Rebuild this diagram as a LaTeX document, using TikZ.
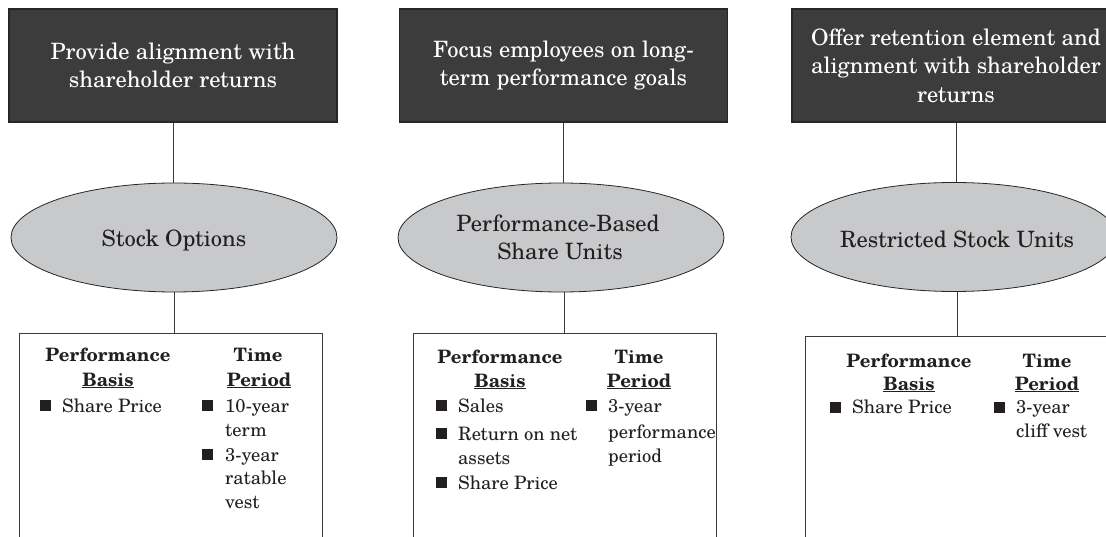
\documentclass[tikz,border=0pt]{standalone}
\usepackage{fontspec}
\setmainfont{TeX Gyre Schola}
\usetikzlibrary{shapes.geometric}
\definecolor{darkbox}{HTML}{3C3C3C}
\definecolor{boxedge}{HTML}{262626}
\definecolor{ellgray}{HTML}{C8C9CB}
\definecolor{ink}{HTML}{231F20}
\definecolor{wirecol}{HTML}{3A3A3A}
\tikzset{
  goal/.style={draw=boxedge, line width=1.2pt, fill=darkbox, text=white,
    minimum width=328pt, minimum height=113pt, inner sep=0pt, align=center,
    font=\fontsize{22.5}{28.5}\selectfont},
  ell/.style={ellipse, draw=boxedge, fill=ellgray, line width=0.8pt,
    minimum width=326pt, minimum height=109pt, inner sep=0pt},
  etext/.style={font=\fontsize{22.5}{28}\selectfont, text=ink, anchor=base, inner sep=0pt},
  panel/.style={draw=wirecol, line width=0.8pt, minimum width=303pt,
    minimum height=260pt, anchor=north, inner sep=0pt},
  head/.style={font=\fontsize{18.5}{23}\selectfont\bfseries, anchor=base, inner sep=0pt, text=ink},
  item/.style={font=\fontsize{18.5}{24}\selectfont, anchor=base west, inner sep=0pt, text=ink},
  bul/.style={fill=ink, minimum size=11pt, inner sep=0pt},
  wire/.style={draw=wirecol, line width=0.8pt}
}
\begin{document}
\begin{tikzpicture}[x=1pt,y=-1pt]
\useasboundingbox (0,0) rectangle (1106,537);
\clip (0,0) rectangle (1106,537);

% goal boxes
\node[goal] (g1) at (173,65.5) {Provide alignment with\\shareholder returns};
\node[goal] (g2) at (563.5,65.5) {Focus employees on long-\\term performance goals};
\node[goal] (g3) at (956,65.5) {Offer retention element and\\alignment with shareholder\\returns};

% ellipses
\node[ell] (e1) at (174,237.5) {};
\node[ell] (e2) at (561,237.5) {};
\node[ell] (e3) at (954,237) {};
\node[etext] (e1t) at (174,247) {Stock Options};
\node[etext] (e2t) at (558,232) {Performance-Based};
\node[etext] (e2u) at (560,260) {Share Units};
\node[etext] (e3t) at (957,248) {Restricted Stock Units};

% panels
\node[panel] (b1) at (170.5,333) {};
\node[panel] (b2) at (564.5,333) {};
\node[panel] (b3) at (957,336) {};

% connectors
\draw[wire] (g1.south) -- (g1.south |- e1.north);
\draw[wire] (g2.south) -- (g2.south |- e2.north);
\draw[wire] (g3.south) -- (g3.south |- e3.north);
\draw[wire] (e1.south) -- (e1.south |- b1.north);
\draw[wire] (b2.north |- e2.south) -- (b2.north);
\draw[wire] (b3.north |- e3.south) -- (b3.north);

% panel 1
\node[head] (h1a) at (108,362) {Performance};
\node[head] (h1b) at (108,386) {\underline{Basis}};
\node[head] (h1c) at (258,362) {Time};
\node[head] (h1d) at (259,386) {\underline{Period}};
\node[bul] (s1a) at (45,405.5) {};
\node[item] (i1a) at (62,412) {Share Price};
\node[bul] (s1b) at (207.5,405.5) {};
\node[item] (i1b) at (225,412) {10-year};
\node[item] (i1c) at (225,436) {term};
\node[bul] (s1c) at (207.5,454) {};
\node[item] (i1d) at (225,461) {3-year};
\node[item] (i1e) at (225,484) {ratable};
\node[item] (i1f) at (225,508) {vest};

% panel 2
\node[head] (h2a) at (500,363) {Performance};
\node[head] (h2b) at (500,387) {\underline{Basis}};
\node[head] (h2c) at (639,363) {Time};
\node[head] (h2d) at (639,387) {\underline{Period}};
\node[bul] (s2a) at (441.5,405.5) {};
\node[item] (i2a) at (458,412) {Sales};
\node[bul] (s2b) at (441.5,433) {};
\node[item] (i2b) at (458,440) {Return on net};
\node[item] (i2c) at (458,464) {assets};
\node[bul] (s2c) at (441.5,482) {};
\node[item] (i2d) at (458,489) {Share Price};
\node[bul] (s2d) at (591.5,405.5) {};
\node[item] (i2e) at (608,412) {3-year};
\node[item] (i2f) at (608,438) {performance};
\node[item] (i2g) at (608,462) {period};

% panel 3
\node[head] (h3a) at (909,367) {Performance};
\node[head] (h3b) at (909,390) {\underline{Basis}};
\node[head] (h3c) at (1047,367) {Time};
\node[head] (h3d) at (1047,390) {\underline{Period}};
\node[bul] (s3a) at (835,407) {};
\node[item] (i3a) at (852,413) {Share Price};
\node[bul] (s3b) at (999,407) {};
\node[item] (i3b) at (1016,413) {3-year};
\node[item] (i3c) at (1016,437) {cliff vest};
\end{tikzpicture}
\end{document}
